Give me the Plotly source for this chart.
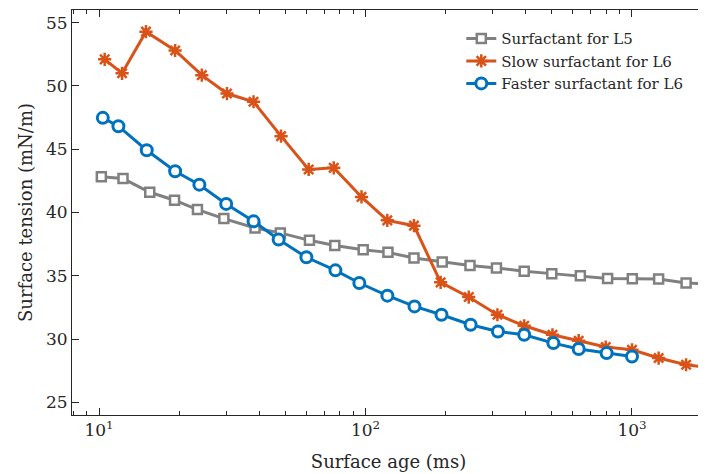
import plotly.graph_objects as go

# Surfactant for L5
age_l5 = [10.2, 12.3, 15.5, 19.2, 23.4, 29.4, 38.5, 47.9, 61.6, 76.7, 98, 121.4, 152, 194,
          246.6, 310, 394, 500, 640, 810, 1003, 1259, 1596, 2000]
st_l5 = [42.82, 42.68, 41.6, 40.97, 40.23, 39.52, 38.78, 38.39, 37.8, 37.4, 37.06, 36.85, 36.41, 36.09,
         35.82, 35.62, 35.35, 35.17, 35.0, 34.79, 34.77, 34.75, 34.43, 34.33]

# Slow surfactant for L6
age_slow = [10.5, 12.2, 15.0, 19.3, 24.3, 30.2, 38.0, 48.2, 61.2, 76.0, 96.6, 120.7, 152, 191.4,
            244, 312.6, 394, 503, 631, 797, 1000, 1259, 1596, 2000]
st_slow = [52.1, 51.0, 54.29, 52.8, 50.85, 49.4, 48.75, 46.03, 43.4, 43.53, 41.23, 39.38, 38.96, 34.48,
           33.32, 31.92, 31.05, 30.34, 29.87, 29.37, 29.15, 28.5, 27.97, 27.7]

# Faster surfactant for L6
age_fast = [10.33, 11.82, 15.1, 19.3, 23.8, 30.0, 38.0, 47.2, 60.0, 77.1, 94.8, 120.8, 152.7, 192.8,
            248, 314, 394, 507, 631, 803, 1000]
st_fast = [47.48, 46.82, 44.92, 43.26, 42.2, 40.68, 39.3, 37.86, 36.46, 35.43, 34.43, 33.43, 32.58, 31.92,
           31.13, 30.6, 30.34, 29.68, 29.21, 28.89, 28.62]

x_tickvals = [10, 100, 1000]
x_ticktext = ["10<sup>1</sup>", "10<sup>2</sup>", "10<sup>3</sup>"]
y_tickvals = [25, 30, 35, 40, 45, 50, 55]

GRAY = "#808080"
RED = "#D95319"
BLUE = "#0072BD"
AX = "#262626"
FONT = "DejaVu Serif"

fig = go.Figure()
fig.add_trace(go.Scatter(
    x=age_l5, y=st_l5, mode="lines+markers", name="Surfactant for L5",
    line=dict(color=GRAY, width=3),
    marker=dict(symbol="square", size=9, color="white", line=dict(color=GRAY, width=2.5)),
))
fig.add_trace(go.Scatter(
    x=age_slow, y=st_slow, mode="lines+markers", name="Slow surfactant for L6",
    line=dict(color=RED, width=3),
    marker=dict(symbol="asterisk-open", size=11, color=RED, line=dict(color=RED, width=2.5)),
))
fig.add_trace(go.Scatter(
    x=age_fast, y=st_fast, mode="lines+markers", name="Faster surfactant for L6",
    line=dict(color=BLUE, width=3),
    marker=dict(symbol="circle", size=11, color="white", line=dict(color=BLUE, width=3)),
))

fig.update_layout(
    width=698, height=466,
    margin=dict(l=64, r=1, t=2, b=59),
    paper_bgcolor="white", plot_bgcolor="white",
    font=dict(family=FONT, size=17, color=AX),
    showlegend=True,
    legend=dict(x=0.615, y=0.97, xanchor="left", yanchor="top",
                bgcolor="rgba(255,255,255,0)", borderwidth=0,
                font=dict(family=FONT, size=15, color=AX),
                tracegroupgap=0),
    xaxis=dict(
        type="log", range=[0.8985, 3.274],
        tickvals=x_tickvals, ticktext=x_ticktext,
        ticks="inside", ticklen=7, tickwidth=1, tickcolor=AX,
        minor=dict(ticks="inside", ticklen=4, tickwidth=1, tickcolor=AX, dtick="D1", showgrid=False),
        showline=True, linecolor=AX, linewidth=1, mirror="allticks",
        showgrid=False, zeroline=False,
        title=dict(text="Surface age (ms)", font=dict(family=FONT, size=18), standoff=15),
        tickfont=dict(family=FONT, size=17),
    ),
    yaxis=dict(
        range=[24, 56], tickvals=y_tickvals,
        ticks="inside", ticklen=7, tickwidth=1, tickcolor=AX,
        showline=True, linecolor=AX, linewidth=1, mirror="allticks",
        showgrid=False, zeroline=False,
        title=dict(text="Surface tension (mN/m)", font=dict(family=FONT, size=18), standoff=8),
        tickfont=dict(family=FONT, size=17),
    ),
)

fig.write_html("out.html")
